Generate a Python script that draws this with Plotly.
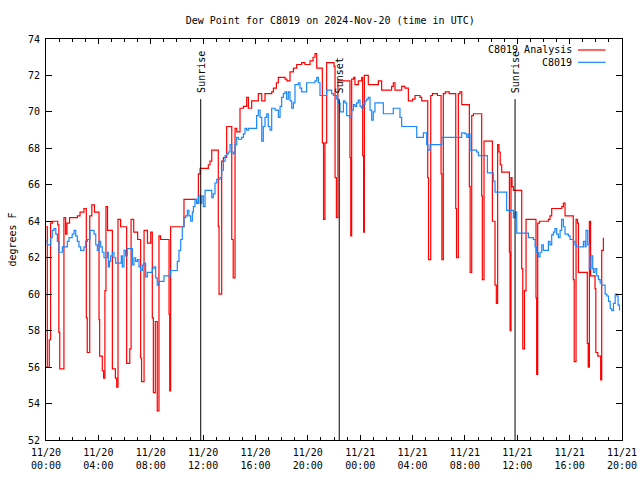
import plotly.graph_objects as go

# ---- data (hours since 2024-11-20 00:00 UTC, dew point in deg F) ----
analysis_hours = [0.0, 0.1, 0.25, 0.35, 0.5, 0.9, 0.98, 1.05, 1.37, 1.5, 1.6, 1.8, 2.4, 2.6, 2.9, 3.08, 3.15, 3.34, 3.5, 3.7,
                  4.05, 4.1, 4.3, 4.4, 4.5, 4.58, 4.7, 5.07, 5.3, 5.4, 5.5, 5.7, 6.16, 6.4, 6.5, 6.7, 7.0, 7.23, 7.3, 7.49,
                  7.75, 8.0, 8.12, 8.2, 8.35, 8.5, 8.63, 8.75, 9.4, 9.45, 9.52, 10.54, 11.5, 11.64, 11.77, 12.15, 12.4, 12.53, 12.66, 13.16,
                  13.22, 13.42, 13.55, 13.8, 14.19, 14.3, 14.44, 14.57, 14.82, 15.08, 15.33, 15.46, 15.71, 16.1, 16.22, 16.48, 16.73, 17.24, 17.37, 17.6,
                  17.75, 18.26, 18.4, 18.64, 18.9, 19.15, 19.53, 19.78, 20.17, 20.4, 20.55, 20.68, 21.11, 21.2, 21.31, 21.44, 22.0, 22.08, 22.18, 22.3,
                  23.22, 23.28, 23.35, 23.5, 23.6, 23.86, 24.12, 24.19, 24.26, 24.32, 24.62, 25.39, 25.64, 26.4, 26.53, 26.66, 27.17, 27.42, 27.68, 28.0,
                  28.19, 28.57, 28.7, 29.16, 29.22, 29.39, 29.52, 29.9, 30.18, 30.24, 30.35, 30.5, 30.8, 31.3, 31.36, 31.5, 31.62, 31.76, 32.34, 32.4,
                  32.52, 32.65, 33.28, 33.33, 33.46, 34.1, 34.3, 34.4, 34.5, 34.6, 34.7, 34.81, 35.4, 35.45, 35.52, 35.6, 35.7, 36.34, 36.42, 36.55,
                  36.67, 37.43, 37.48, 37.56, 37.7, 38.38, 38.5, 38.63, 39.4, 39.52, 39.65, 40.28, 40.35, 40.49, 40.6, 40.67, 41.35, 41.42, 41.51, 41.6,
                  41.94, 42.0, 42.15, 42.37, 42.45, 42.58]
analysis_values = [63.7, 56.0, 57.5, 63.9, 64.0, 63.8, 57.9, 55.9, 64.2, 63.3, 63.9, 64.2, 64.3, 64.5, 64.7, 58.7, 56.8, 64.3, 64.9, 64.5,
                   58.6, 56.6, 55.8, 55.4, 60.2, 64.8, 63.5, 55.9, 55.4, 54.9, 64.1, 63.7, 56.2, 57.0, 64.1, 63.4, 63.0, 56.5, 55.2, 63.5,
                   62.8, 63.4, 58.7, 54.6, 58.5, 53.6, 63.2, 63.0, 58.9, 54.7, 63.7, 65.2, 65.0, 66.6, 66.9, 66.9, 67.1, 67.3, 67.9, 63.7,
                   60.0, 67.3, 67.5, 69.2, 63.0, 60.9, 69.1, 68.9, 70.2, 70.3, 70.8, 70.2, 70.6, 70.6, 71.0, 70.6, 71.0, 71.1, 71.3, 71.6,
                   71.9, 71.8, 71.7, 72.2, 72.4, 72.6, 72.7, 72.6, 72.8, 73.0, 73.2, 72.4, 68.3, 64.1, 68.3, 72.7, 72.5, 66.4, 64.2, 71.7,
                   67.5, 63.2, 71.8, 71.9, 71.5, 71.7, 71.9, 67.6, 63.4, 72.0, 71.5, 71.7, 71.2, 71.4, 71.6, 71.2, 71.4, 71.3, 70.6, 70.7,
                   70.9, 70.8, 70.6, 66.4, 61.9, 70.9, 71.0, 70.9, 66.6, 61.9, 71.0, 71.1, 71.0, 64.7, 62.0, 71.0, 71.1, 70.4, 65.9, 61.2,
                   69.8, 69.9, 65.4, 60.8, 68.4, 64.0, 60.5, 59.5, 68.2, 67.8, 67.1, 66.7, 62.3, 58.0, 66.4, 65.9, 65.7, 61.4, 57.0, 60.2,
                   64.1, 59.8, 55.6, 63.9, 64.0, 64.1, 64.3, 64.7, 64.8, 65.0, 64.3, 60.8, 56.3, 64.1, 63.9, 61.2, 57.3, 56.0, 64.0, 61.0,
                   60.3, 56.8, 56.6, 55.3, 62.4, 63.1]

obs_hours = [0.0, 0.1, 0.36, 0.48, 0.61, 0.75, 0.87, 0.99, 1.25, 1.63, 1.76, 2.0, 2.14, 2.27, 2.39, 2.52, 2.65, 2.9, 3.03, 3.16,
             3.36, 3.67, 3.8, 3.92, 4.05, 4.18, 4.3, 4.43, 4.69, 4.76, 4.85, 4.94, 5.07, 5.19, 5.32, 5.75, 5.83, 5.96, 6.08, 6.21,
             6.47, 6.6, 6.72, 6.85, 6.98, 7.1, 7.23, 7.36, 7.48, 7.61, 7.74, 8.0, 8.12, 8.25, 8.38, 8.5, 8.63, 8.76, 9.01, 9.4,
             9.52, 9.9, 10.03, 10.16, 10.29, 10.41, 10.54, 10.67, 10.8, 10.92, 11.05, 11.18, 11.26, 11.38, 11.5, 11.64, 11.77, 11.9, 12.02, 12.15,
             12.53, 12.66, 12.78, 12.91, 13.04, 13.29, 13.42, 13.55, 13.68, 13.8, 13.93, 14.06, 14.18, 14.31, 14.44, 14.57, 14.7, 14.95, 15.08, 15.2,
             15.33, 15.46, 15.97, 16.09, 16.22, 16.35, 16.48, 16.6, 16.73, 16.86, 16.98, 17.11, 17.24, 17.5, 17.75, 17.88, 18.0, 18.13, 18.26, 18.38,
             18.51, 18.64, 18.77, 18.9, 19.02, 19.28, 19.4, 19.53, 19.78, 19.91, 20.55, 20.68, 20.81, 20.93, 21.31, 21.44, 21.69, 21.82, 21.95, 22.08,
             22.21, 22.33, 22.46, 22.59, 22.72, 22.84, 22.97, 23.1, 23.22, 23.35, 23.48, 23.6, 23.73, 23.86, 23.99, 24.12, 24.24, 24.37, 24.5, 24.62,
             24.75, 24.88, 25.0, 25.13, 25.64, 25.77, 26.4, 26.53, 26.91, 27.04, 27.17, 28.19, 28.32, 28.7, 28.83, 28.96, 29.08, 29.16, 29.34, 30.1,
             30.23, 31.62, 31.75, 32.01, 32.14, 32.26, 32.39, 32.9, 33.03, 33.59, 33.72, 34.05, 34.17, 34.3, 35.06, 35.19, 35.57, 35.7, 35.83, 35.96,
             36.72, 36.85, 37.23, 37.36, 37.48, 37.61, 37.74, 37.87, 37.99, 38.25, 38.38, 38.5, 38.63, 38.76, 38.88, 39.01, 39.14, 39.27, 39.39, 39.52,
             39.65, 39.9, 40.03, 40.29, 40.41, 40.54, 40.92, 41.05, 41.18, 41.25, 41.38, 41.51, 41.63, 41.76, 41.82, 41.94, 42.07, 42.2, 42.33, 42.45,
             42.71, 42.84, 42.97, 43.1, 43.22, 43.35, 43.48, 43.6, 43.7, 43.81]
obs_values = [62.9, 62.7, 63.1, 63.5, 63.6, 63.3, 62.9, 62.3, 62.6, 62.9, 63.1, 63.3, 63.5, 63.2, 62.9, 62.6, 62.4, 62.6, 62.9, 63.0,
              63.5, 63.3, 62.7, 62.4, 62.9, 62.6, 62.3, 62.0, 62.3, 61.5, 61.8, 62.1, 62.3, 62.0, 61.7, 62.1, 61.5, 62.4, 62.1, 62.5,
              62.5, 61.6, 62.0, 61.8, 61.9, 61.5, 61.3, 61.6, 61.7, 60.95, 61.2, 61.2, 61.4, 61.5, 60.9, 60.5, 60.7, 60.7, 61.0, 61.0,
              61.3, 61.3, 61.8, 62.4, 63.0, 63.7, 64.2, 64.3, 64.6, 64.3, 64.0, 64.5, 64.8, 65.2, 65.0, 65.4, 65.0, 65.4, 64.8, 65.7,
              65.7, 65.3, 65.5, 66.1, 66.3, 66.4, 66.8, 67.3, 67.6, 67.7, 67.8, 68.2, 67.8, 67.7, 68.2, 68.6, 68.5, 68.6, 68.8, 69.1,
              69.0, 69.1, 69.1, 69.8, 70.1, 69.7, 68.4, 69.2, 69.7, 69.9, 69.2, 69.0, 70.2, 70.1, 69.7, 70.3, 70.8, 71.0, 71.1, 70.7,
              71.1, 70.6, 70.2, 70.5, 71.5, 71.6, 71.3, 71.1, 71.1, 71.6, 71.7, 71.9, 71.6, 70.9, 70.9, 71.2, 71.2, 71.0, 70.9, 70.9,
              70.7, 70.5, 70.0, 70.0, 70.6, 70.5, 69.8, 69.8, 69.7, 70.1, 70.4, 70.3, 70.5, 70.65, 70.3, 70.2, 70.4, 70.6, 70.7, 70.8,
              70.1, 69.55, 70.0, 70.5, 70.5, 69.9, 69.9, 70.2, 70.2, 69.7, 69.2, 69.2, 68.6, 68.6, 68.85, 68.85, 68.2, 67.9, 68.2, 68.2,
              68.6, 68.6, 68.85, 68.8, 68.6, 68.8, 67.9, 67.8, 67.6, 67.6, 66.65, 66.65, 66.2, 65.6, 65.6, 64.6, 64.6, 64.2, 64.5, 63.35,
              63.35, 63.1, 63.0, 62.6, 62.3, 62.05, 62.3, 62.7, 62.4, 62.4, 62.9, 62.7, 63.25, 63.4, 63.6, 63.3, 63.1, 63.5, 64.1, 63.7,
              63.3, 63.2, 63.0, 62.9, 62.7, 62.6, 62.6, 62.9, 62.6, 63.5, 62.7, 61.4, 62.1, 61.4, 61.2, 61.4, 61.0, 60.8, 60.6, 60.5,
              60.0, 59.9, 59.6, 59.2, 59.1, 59.5, 60.0, 59.9, 59.4, 59.1]

tick_hours = [0, 4, 8, 12, 16, 20, 24, 28, 32, 36, 40, 44]
tick_labels = ["11/20<br>00:00", "11/20<br>04:00", "11/20<br>08:00", "11/20<br>12:00", "11/20<br>16:00", "11/20<br>20:00",
               "11/21<br>00:00", "11/21<br>04:00", "11/21<br>08:00", "11/21<br>12:00", "11/21<br>16:00", "11/21<br>20:00"]

event_names = ["Sunrise", "Sunset", "Sunrise"]
event_hours = [11.82, 22.4, 35.83]
event_top = 70.7

series_names = ["C8019 Analysis", "C8019"]
series_colors = ["#ff0000", "#1a88ff"]

FONT = "DejaVu Sans Mono"

fig = go.Figure()
fig.add_trace(go.Scatter(x=analysis_hours, y=analysis_values, mode="lines", line_shape="hv",
                         line=dict(color=series_colors[0], width=1.2), name=series_names[0]))
fig.add_trace(go.Scatter(x=obs_hours, y=obs_values, mode="lines", line_shape="hv",
                         line=dict(color=series_colors[1], width=1.2), name=series_names[1]))

for name, h in zip(event_names, event_hours):
    fig.add_shape(type="line", x0=h, x1=h, y0=52, y1=event_top, xref="x", yref="y",
                  line=dict(color="black", width=1))
    fig.add_annotation(x=h, y=event_top, xref="x", yref="y", text=name, textangle=-90,
                       showarrow=False, xanchor="center", yanchor="bottom", yshift=4,
                       font=dict(family=FONT, size=10, color="black"))

# manual gnuplot-style key (sample line on the right of the text)
key_rows = [0.9726, 0.9419]
for name, color, yk in zip(series_names, series_colors, key_rows):
    fig.add_annotation(x=0.9167, y=yk, xref="paper", yref="paper", text=name, showarrow=False,
                       xanchor="right", yanchor="middle", font=dict(family=FONT, size=10, color="black"))
    fig.add_shape(type="line", x0=0.9236, x1=0.9714, y0=yk, y1=yk, xref="paper", yref="paper",
                  line=dict(color=color, width=1.2))

fig.update_layout(
    width=640, height=480,
    margin=dict(l=46, r=18, t=39, b=40, autoexpand=False),
    paper_bgcolor="white", plot_bgcolor="white",
    showlegend=False,
    font=dict(family=FONT, size=10, color="black"),
    title=dict(text="Dew Point for C8019 on 2024-Nov-20 (time in UTC)", x=0.516, xanchor="center",
               xref="container", yref="container", automargin=False,
               y=0.958, yanchor="middle", font=dict(family=FONT, size=10, color="black")),
)
fig.update_xaxes(range=[0, 44], tickvals=tick_hours, ticktext=tick_labels, ticks="inside", ticklen=5,
                 tickcolor="black", showline=True, linecolor="black", linewidth=1, mirror="ticks",
                 showgrid=False, zeroline=False, automargin=False, ticklabelstandoff=3,
                 minor=dict(ticks="inside", dtick=1, tick0=0, ticklen=3, tickcolor="black", showgrid=False))
fig.update_yaxes(range=[52, 74], dtick=2, tick0=52, ticks="inside", ticklen=6, tickcolor="black",
                 showline=True, linecolor="black", linewidth=1, mirror="ticks", showgrid=False, zeroline=False,
                 automargin=False, ticklabelstandoff=3,
                 title=dict(text="degrees F", standoff=9, font=dict(family=FONT, size=10)))

fig.write_html("out.html", config={"displayModeBar": False},
               post_script="document.body.style.margin='0px';document.body.style.overflow='hidden';")
